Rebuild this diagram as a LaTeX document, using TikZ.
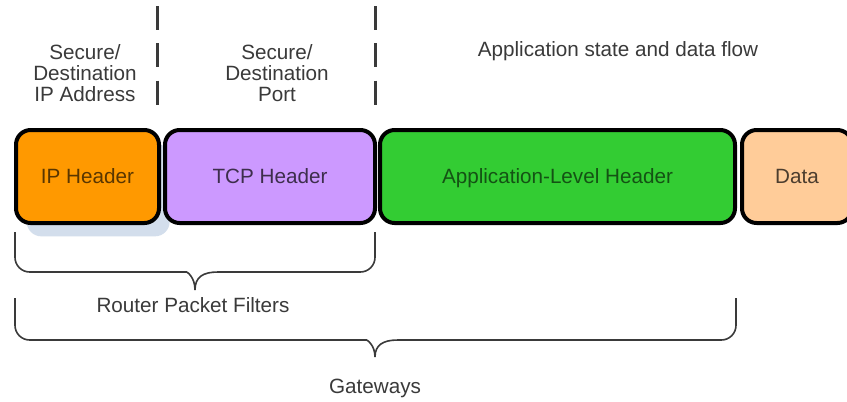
\documentclass[tikz,border=0pt]{standalone}
\usepackage{fontspec}
\setmainfont{Liberation Sans}
\usetikzlibrary{shadows}

\definecolor{IPOrange}{HTML}{FF9900}
\definecolor{TCPViolet}{HTML}{CC99FF}
\definecolor{AppGreen}{HTML}{33CC33}
\definecolor{DataPeach}{HTML}{FFCC99}
\definecolor{ShadeBlue}{HTML}{D3DEEC}
\definecolor{TextGray}{HTML}{3A3A3A}

\begin{document}
\begin{tikzpicture}[x=0.75pt, y=-0.75pt,
    every node/.style={font=\fontsize{15.5}{15.8}\selectfont, text=TextGray},
    field/.style={draw=black, line width=3pt, rounded corners=11pt,
                  minimum height=69.75pt, inner sep=0pt, text height=11pt, text depth=0pt},
    captext/.style={align=center},
    sepline/.style={draw=TextGray, line width=2.25pt, dash pattern=on 18pt off 10pt},
    bracket/.style={draw=TextGray, line width=1.2pt}]
  \clip (0,0) rectangle (847,401);
  \fill[white] (0,0) rectangle (847,401);
  \path node (ip)   at ( 87.5,176.5) [field, fill=IPOrange, minimum width=107.25pt, text=IPOrange!35!black,
                   drop shadow={shadow xshift=8pt, shadow yshift=-10pt, fill=ShadeBlue, opacity=1}] {IP Header}
        node (tcp)  at (270,  176.5) [field, fill=TCPViolet, minimum width=157.5pt, text=TCPViolet!30!black] {TCP Header}
        node (app)  at (557.5,176.5) [field, fill=AppGreen, minimum width=266.25pt, text=AppGreen!40!black] {Application-Level Header}
        node (data) at (797,  176.5) [field, fill=DataPeach, minimum width=82.5pt, text=DataPeach!30!black] {Data}
        node (addr)  at ( 85,73) [captext] {Secure/\\Destination\\IP Address}
        node (port)  at (277,73) [captext] {Secure/\\Destination\\Port}
        node (state) at (618,51) {Application state and data flow}
        node (rpf)   at (193,305) {Router Packet Filters}
        node (gw)    at (375,388) {Gateways};
  % separators
  \draw[sepline] (157,6) -- (157,105)
                 (375,6) -- (375,105);
  % braces
  \draw[bracket] (15,232) [rounded corners=11pt] |- (172,272) [sharp corners]
        .. controls (187,272) and (195,277) .. (195,290)
        .. controls (195,277) and (203,272) .. (218,272) [rounded corners=11pt] -| (375,232);
  \draw[bracket] (15,298) [rounded corners=11pt] |- (352,340) [sharp corners]
        .. controls (367,340) and (375,345) .. (375,357)
        .. controls (375,345) and (383,340) .. (398,340) [rounded corners=11pt] -| (736,298);
\end{tikzpicture}
\end{document}
